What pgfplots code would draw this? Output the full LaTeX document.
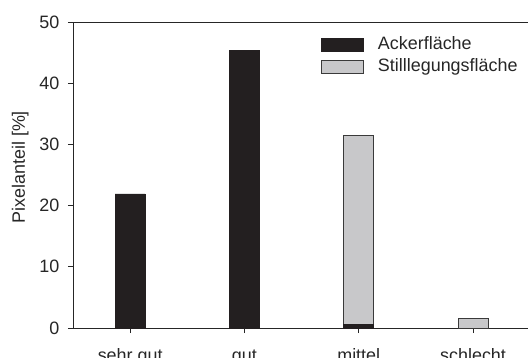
\documentclass[border=0pt]{standalone}
\usepackage{fontspec}
\setmainfont{Liberation Sans}
\usepackage{pgfplots}
\pgfplotsset{compat=1.18}
\definecolor{barblack}{HTML}{231F20}
\definecolor{bargray}{HTML}{C8C8CA}
\definecolor{edgegray}{HTML}{3A3A3A}
\newcommand{\chartfont}{\fontsize{18}{21}\selectfont}
\pgfplotsset{boxlegend/.style={legend image code/.code={\draw[##1] (0bp,-6.5bp) rectangle (42bp,6.5bp);}}}
\begin{document}
\begin{tikzpicture}
\begin{axis}[
  name=ax,
  scale only axis,
  width=457.2bp, height=306bp,
  xmin=-0.5, xmax=3.5, ymin=0, ymax=50,
  ybar stacked, bar width=30bp,
  xtick={0,1,2,3},
  xticklabels={sehr gut,gut,mittel,schlecht},
  ytick={0,10,20,30,40,50},
  tick align=outside,
  xtick pos=bottom, ytick pos=left,
  major tick length=5bp,
  axis line style={line width=0.8bp, black!85},
  tick style={line width=0.7bp, black!85},
  /pgf/number format/assume math mode=true,
  tick label style={font=\chartfont, text=black!85},
  yticklabel style={anchor=east, inner sep=0pt, xshift=-8.5bp},
  xticklabel style={anchor=base, inner sep=0pt, yshift=-28bp},
  ylabel={Pixelanteil [\%]},
  ylabel style={font=\chartfont, text=black!85, at={(axis description cs:-0.105,0.525)}, anchor=base},
  legend style={draw=none, fill=none, font=\chartfont, text=black!85,
    at={(rel axis cs:0.5424,0.954)}, anchor=north west,
    inner sep=0pt, row sep=6bp, column sep=14bp,
    nodes={inner sep=0pt, text height=13bp, text depth=3.5bp}},
  legend cell align=left,
]
\addplot[fill=barblack, draw=barblack, line width=0.6bp, boxlegend]
  coordinates {(0,21.9) (1,45.4) (2,0.6) (3,0)};
\addlegendentry{Ackerfläche}
\addplot[fill=bargray, draw=edgegray, line width=0.8bp, boxlegend]
  coordinates {(0,0) (1,0) (2,30.8) (3,1.6)};
\addlegendentry{Stilllegungsfläche}
\end{axis}
\pgfresetboundingbox
\path[use as bounding box] ([shift={(-73bp,-30bp)}]ax.south west) rectangle ([shift={(455bp,328bp)}]ax.south west);
\end{tikzpicture}
\end{document}
